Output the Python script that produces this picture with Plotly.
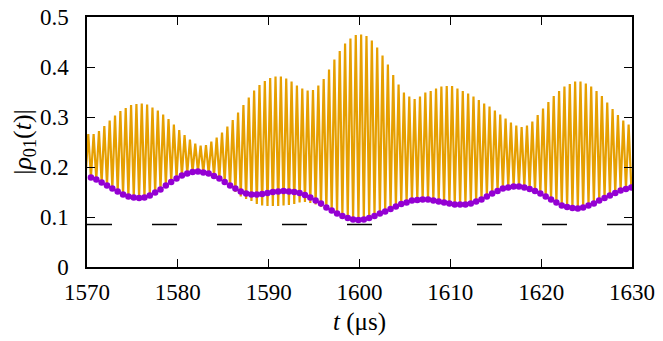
import numpy as np
import plotly.graph_objects as go

# ---- data ----
t_first_peak = 1570.14   # time of first oscillation maximum (µs)
period = 0.589           # oscillation period (µs)

peak_vals = [0.266, 0.266, 0.272, 0.282, 0.293, 0.303, 0.312, 0.318, 0.324, 0.326,
             0.327, 0.325, 0.319, 0.313, 0.305, 0.296, 0.285, 0.274, 0.264, 0.255,
             0.247, 0.243, 0.244, 0.251, 0.259, 0.269, 0.281, 0.294, 0.309, 0.324,
             0.339, 0.353, 0.364, 0.372, 0.378, 0.381, 0.381, 0.377, 0.371, 0.363,
             0.357, 0.353, 0.354, 0.363, 0.376, 0.395, 0.415, 0.432, 0.447, 0.457,
             0.464, 0.465, 0.462, 0.453, 0.439, 0.423, 0.405, 0.384, 0.365, 0.349,
             0.341, 0.336, 0.341, 0.349, 0.352, 0.357, 0.361, 0.362, 0.362, 0.357,
             0.352, 0.347, 0.341, 0.334, 0.327, 0.321, 0.313, 0.305, 0.297, 0.289,
             0.283, 0.280, 0.283, 0.291, 0.304, 0.317, 0.330, 0.342, 0.352, 0.361,
             0.366, 0.371, 0.371, 0.367, 0.361, 0.352, 0.342, 0.329, 0.316, 0.304,
             0.293, 0.285]

trough_vals = [0.182,
               0.179, 0.175, 0.169, 0.163, 0.157, 0.151, 0.145, 0.141, 0.139, 0.138,
               0.139, 0.143, 0.149, 0.155, 0.163, 0.170, 0.177, 0.183, 0.187, 0.190,
               0.191, 0.189, 0.187, 0.182, 0.177, 0.170, 0.160, 0.150, 0.141, 0.136,
               0.132, 0.126, 0.123, 0.122, 0.122, 0.122, 0.123, 0.124, 0.126, 0.129,
               0.130, 0.128, 0.125, 0.120, 0.114, 0.110, 0.105, 0.102, 0.098, 0.095,
               0.094, 0.095, 0.098, 0.102, 0.107, 0.111, 0.116, 0.121, 0.126, 0.129,
               0.133, 0.134, 0.135, 0.135, 0.133, 0.131, 0.129, 0.127, 0.125, 0.125,
               0.125, 0.127, 0.131, 0.135, 0.141, 0.147, 0.152, 0.157, 0.159, 0.161,
               0.161, 0.159, 0.156, 0.152, 0.147, 0.141, 0.135, 0.129, 0.123, 0.120,
               0.118, 0.117, 0.119, 0.123, 0.127, 0.133, 0.138, 0.143, 0.148, 0.153,
               0.156, 0.159]

dot_vals = [0.179, 0.175, 0.169, 0.163, 0.157, 0.151, 0.145, 0.141, 0.139, 0.138,
            0.139, 0.143, 0.149, 0.155, 0.163, 0.170, 0.177, 0.183, 0.187, 0.190,
            0.191, 0.189, 0.187, 0.182, 0.177, 0.170, 0.163, 0.157, 0.151, 0.147,
            0.145, 0.145, 0.146, 0.148, 0.150, 0.151, 0.152, 0.151, 0.150, 0.148,
            0.144, 0.139, 0.133, 0.127, 0.119, 0.113, 0.107, 0.102, 0.098, 0.095,
            0.094, 0.095, 0.098, 0.102, 0.107, 0.111, 0.116, 0.121, 0.126, 0.129,
            0.133, 0.134, 0.135, 0.135, 0.133, 0.131, 0.129, 0.127, 0.125, 0.125,
            0.125, 0.127, 0.131, 0.135, 0.141, 0.147, 0.152, 0.157, 0.159, 0.161,
            0.161, 0.159, 0.156, 0.152, 0.147, 0.141, 0.135, 0.129, 0.123, 0.120,
            0.118, 0.117, 0.119, 0.123, 0.127, 0.133, 0.138, 0.143, 0.148, 0.153,
            0.156, 0.159]

threshold = 0.085
x_range = [1570, 1630]
x_ticks = [1570, 1580, 1590, 1600, 1610, 1620, 1630]
y_ticks = [0, 0.1, 0.2, 0.3, 0.4, 0.5]
y_tick_labels = ["0", "0.1", "0.2", "0.3", "0.4", "0.5"]

# ---- build series ----
t_peaks = t_first_peak + period * np.arange(len(peak_vals))
t_troughs = t_first_peak - period / 2 + period * np.arange(len(trough_vals))

t_line, v_line = [], []
for j in range(len(trough_vals)):
    t_line.append(t_troughs[j]); v_line.append(trough_vals[j])
    if j < len(peak_vals):
        t_line.append(t_peaks[j]); v_line.append(peak_vals[j])

t_dots = t_troughs[1:1 + len(dot_vals)]

FONT = "Liberation Serif, Times New Roman, serif"
FS = 23

fig = go.Figure()
fig.add_trace(go.Scatter(x=x_range, y=[threshold, threshold], mode="lines",
                         line=dict(color="black", width=1.4, dash="25px,40px"),
                         hoverinfo="skip"))
fig.add_trace(go.Scatter(x=t_line, y=v_line, mode="lines",
                         line=dict(color="#E69F00", width=2.2)))
fig.add_trace(go.Scatter(x=t_dots, y=dot_vals, mode="markers",
                         marker=dict(color="#9400D3", size=6.5, line=dict(width=0))))

axis_common = dict(showgrid=False, zeroline=False, showline=True, linecolor="black",
                   linewidth=1.5, mirror="ticks", ticks="inside", ticklen=8,
                   tickwidth=1, tickcolor="black", automargin=False,
                   ticklabeloverflow="allow",
                   tickfont=dict(family=FONT, size=FS, color="black"))

# page has an 8px body margin, so the figure is sized/margined to compensate
fig.update_layout(
    width=655, height=333,
    margin=dict(l=79, r=31, t=9, b=74),
    paper_bgcolor="white", plot_bgcolor="white",
    showlegend=False,
    xaxis=dict(range=x_range, tickvals=x_ticks, ticklabelstandoff=4,
               title=dict(text="<i>t</i> (μs)", font=dict(family=FONT, size=FS + 2, color="black"),
                          standoff=8),
               **axis_common),
    yaxis=dict(range=[0, 0.5], tickvals=y_ticks, ticktext=y_tick_labels, ticklabelstandoff=12,
               title=dict(text="|<i>ρ</i><sub>01</sub>(<i>t</i>)|",
                          font=dict(family=FONT, size=FS + 3, color="black"), standoff=10),
               **axis_common),
)

fig.write_html("out.html")
